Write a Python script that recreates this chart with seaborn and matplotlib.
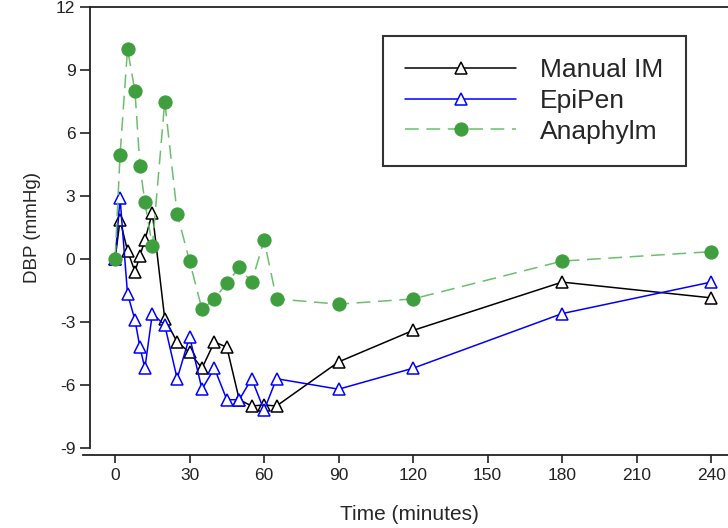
import pandas as pd
import matplotlib
matplotlib.use('Agg')
import matplotlib.pyplot as plt
import seaborn as sns

# Time points (minutes) and DBP change (mmHg)
time_min = [0, 2, 5, 8, 10, 12, 15, 20, 25, 30, 35, 40, 45, 50, 55, 60, 65, 90, 120, 180, 240]
manual_im = [0, 1.85, 0.4, -0.6, 0.15, 0.9, 2.2, -2.85, -3.95, -4.45, -5.2, -3.95, -4.2, -6.7,
             -7.0, -6.95, -7.0, -4.9, -3.4, -1.1, -1.85]
epipen = [0, 2.9, -1.65, -2.9, -4.2, -5.2, -2.6, -3.15, -5.7, -3.7, -6.2, -5.2, -6.7, -6.7,
          -5.7, -7.2, -5.7, -6.2, -5.2, -2.6, -1.1]
anaphylm = [0, 4.95, 10.0, 8.0, 4.45, 2.7, 0.6, 7.5, 2.15, -0.1, -2.4, -1.9, -1.15, -0.4,
            -1.1, 0.9, -1.9, -2.15, -1.9, -0.1, 0.35]

x_ticks = [0, 30, 60, 90, 120, 150, 180, 210, 240]
y_ticks = [-9, -6, -3, 0, 3, 6, 9, 12]

sns.set_style('ticks')
plt.rcParams['font.family'] = ['Liberation Sans', 'DejaVu Sans']
plt.rcParams['axes.unicode_minus'] = False

fig = plt.figure(figsize=(7.28, 5.28), dpi=100)
ax = fig.add_axes([90 / 728, 1 - 448 / 528, 1 - 90 / 728, 441 / 528])

sns.lineplot(x=time_min, y=manual_im, ax=ax, color='black', linewidth=1.1,
             marker='^', markersize=9, markerfacecolor='white', markeredgecolor='black',
             markeredgewidth=1.1, label='Manual IM')
sns.lineplot(x=time_min, y=epipen, ax=ax, color='#0000ff', linewidth=1.1,
             marker='^', markersize=9, markerfacecolor='white', markeredgecolor='#0000ff',
             markeredgewidth=1.1, label='EpiPen')
sns.lineplot(x=time_min, y=anaphylm, ax=ax, color='#6cbf6c', linewidth=1.1,
             linestyle=(0, (9, 5)), marker='o', markersize=9.5,
             markerfacecolor='#3f9f3f', markeredgecolor='#3f9f3f', label='Anaphylm')

ax.set_xlim(-10.1, 246.8)
ax.set_ylim(-9, 12)
ax.set_xticks(x_ticks)
ax.set_yticks(y_ticks)
ax.tick_params(axis='both', labelsize=12.5, colors='#222222', width=1.2, direction='out')
ax.tick_params(axis='y', length=7)
ax.tick_params(axis='x', length=6)

ax.spines['right'].set_visible(False)
for s in ['left', 'top', 'bottom']:
    ax.spines[s].set_linewidth(1.3)
    ax.spines[s].set_color('#222222')
ax.spines['bottom'].set_position(('outward', 5))
ax.spines['bottom'].set_bounds(-13, 250)

ax.set_xlabel('Time (minutes)', fontsize=15, labelpad=16)
ax.set_ylabel('DBP (mmHg)', fontsize=13.5, labelpad=11)

leg = ax.legend(loc='upper left', bbox_to_anchor=((383 - 90) / 638, (448 - 36) / 441),
                borderaxespad=0, fontsize=19, frameon=True, fancybox=False,
                handlelength=4.2, handletextpad=0.9, labelspacing=0.25,
                borderpad=0.85, numpoints=1)
leg.get_frame().set_edgecolor('black')
leg.get_frame().set_linewidth(1.5)

fig.savefig('out.png', dpi=100)
